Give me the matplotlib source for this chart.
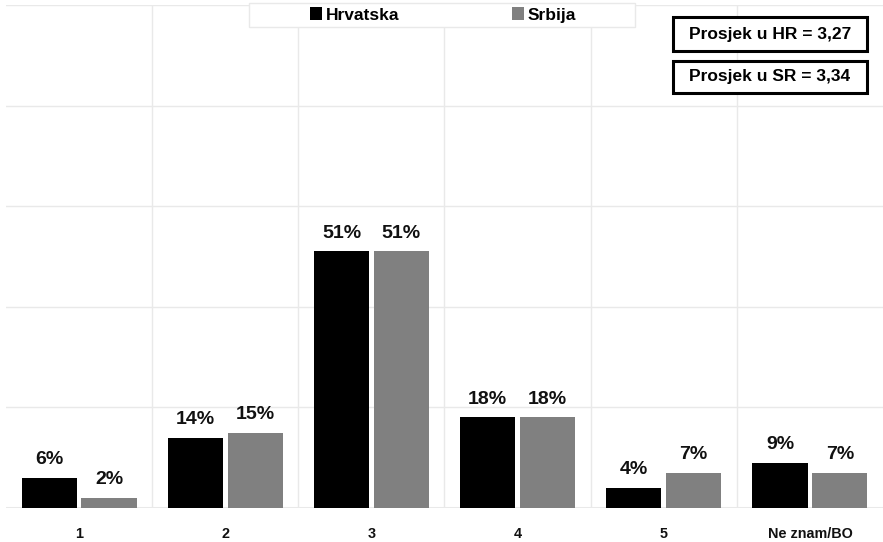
import matplotlib.pyplot as plt
from matplotlib.patches import Patch, Rectangle
import numpy as np

plt.rcParams['font.family'] = ['Liberation Sans', 'DejaVu Sans']

categories = ['1', '2', '3', '4', '5', 'Ne znam/BO']
hrvatska = [6, 14, 51, 18, 4, 9]
srbija = [2, 15, 51, 18, 7, 7]
series_names = ['Hrvatska', 'Srbija']
avg_labels = ['Prosjek u HR = 3,27', 'Prosjek u SR = 3,34']

W, H = 883, 542
fig = plt.figure(figsize=(W / 100, H / 100), dpi=100)
ax = fig.add_axes([6 / W, 34 / H, 877 / W, 503 / H])

grid_c = '#e9e9e9'
x = np.arange(len(categories))
bw = 0.377
off = 0.205
b1 = ax.bar(x - off, hrvatska, bw, color='#000000', zorder=3)
b2 = ax.bar(x + off, srbija, bw, color='#808080', zorder=3)

for bars in (b1, b2):
    ax.bar_label(bars, labels=[f'{v}%' for v in bars.datavalues], padding=7,
                 fontsize=14, fontweight='bold', color='#111111')

ax.set_xlim(-0.5, len(categories) - 0.5)
ax.set_ylim(0, 100)
ax.set_yticks(np.arange(0, 101, 20))
ax.set_yticklabels([])
ax.set_xticks(x)
ax.set_xticklabels(categories, fontsize=10.4, fontweight='bold', color='#111111')
ax.set_xticks(np.arange(0.5, len(categories) - 0.5, 1), minor=True)
ax.tick_params(axis='x', which='both', length=0, pad=14)
ax.tick_params(axis='y', length=0)
ax.grid(axis='y', color=grid_c, linewidth=1.0, zorder=0)
ax.grid(axis='x', which='minor', color=grid_c, linewidth=1.0, zorder=0)
ax.grid(axis='x', which='major', visible=False)
for s in ax.spines.values():
    s.set_visible(False)
ax.axhline(0, color=grid_c, linewidth=1.5, zorder=2)

# legend frame and legend
fig.patches.append(Rectangle((249 / W, 1 - 27 / H), 386 / W, 24 / H,
                             transform=fig.transFigure, facecolor='white',
                             edgecolor=grid_c, linewidth=1.0, zorder=5))
handles = [Patch(facecolor='#000000'), Patch(facecolor='#808080')]
fig.legend(handles, series_names, loc='center', bbox_to_anchor=(443 / W, 1 - 15 / H),
           ncol=2, frameon=False, prop={'weight': 'bold', 'size': 12.5},
           handlelength=0.7, handleheight=0.7, handletextpad=0.2,
           columnspacing=6.5)

# average boxes
for (cx, cy, bx, by, bwid, bh), lab in zip([(770, 34, 673, 17, 194, 34),
                                             (770, 77, 673, 61, 194, 32)], avg_labels):
    fig.patches.append(Rectangle((bx / W, 1 - (by + bh) / H), bwid / W, bh / H,
                                 transform=fig.transFigure, facecolor='white',
                                 edgecolor='black', linewidth=2.2, zorder=5))
    fig.text(cx / W, 1 - cy / H, lab, ha='center', va='center',
             fontsize=12.5, fontweight='bold', zorder=6)

fig.savefig('out.png', dpi=100, facecolor='white')
